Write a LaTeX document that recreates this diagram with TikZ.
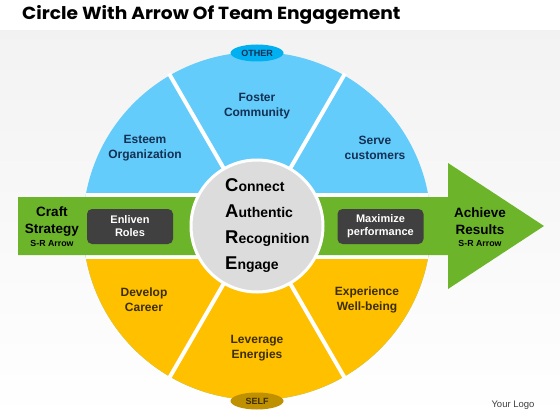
\documentclass[tikz,border=0pt]{standalone}
\usepackage{fontspec}
\setmainfont{Liberation Sans}
\newfontfamily\titlefont{Poppins}
\definecolor{otherblue}{RGB}{99,204,250}
\definecolor{otherdark}{RGB}{0,176,240}
\definecolor{selfgold}{RGB}{255,192,0}
\definecolor{selfdark}{RGB}{191,144,0}
\definecolor{arrowgreen}{RGB}{108,180,42}
\definecolor{boxgray}{RGB}{64,64,64}
\definecolor{hubgray}{RGB}{220,220,220}
\definecolor{navytext}{RGB}{20,48,84}
\definecolor{browntext}{RGB}{60,46,5}
\usetikzlibrary{positioning,shapes.geometric}

\begin{document}
\begin{tikzpicture}
  [x=1pt,y=-1pt,every node/.style={inner sep=0pt,align=center,font=\bfseries},
   bluelabel/.style={text=navytext,font=\bfseries\fontsize{12}{15}\selectfont},
   goldlabel/.style={text=browntext,font=\bfseries\fontsize{12}{15}\selectfont},
   endlabel/.style={font=\bfseries\fontsize{13.5}{17}\selectfont},
   smalllabel/.style={font=\bfseries\fontsize{8.8}{10}\selectfont},
   darkbox/.style={fill=boxgray,rounded corners=5pt,minimum width=86pt,minimum height=35pt,text=white,font=\bfseries\fontsize{11}{13}\selectfont},
   caretext/.style={anchor=base west,font=\bfseries\fontsize{14}{14}\selectfont},
   tagellipse/.style={ellipse,minimum width=53pt,minimum height=17pt,font=\bfseries\fontsize{9}{10}\selectfont}]
  \useasboundingbox (0,0) rectangle (560,420);
  \fill[white] (0,0) rectangle (560,420);
  \shade[top color=black!5,bottom color=white] (0,31) rectangle (560,420);
  \node[anchor=west,xscale=1.065,font=\titlefont\bfseries\fontsize{17.5}{19}\selectfont] (title) at (22,15) {Circle With Arrow Of Team Engagement};

  \coordinate (c) at (257,226);
  \fill[otherblue] (c) circle (174);
  \begin{scope}
    \clip (0,226) rectangle (560,420);
    \fill[selfgold] (c) circle (174);
  \end{scope}
  \foreach \a in {60,120,240,300}
    \draw[white,line width=4pt] (c) -- ++(\a:176);
  \begin{scope}
    \clip (c) circle (174);
    \fill[white] (60,193) rectangle (450,259);
  \end{scope}
  \fill[arrowgreen] (18,197) -- (448,197) -- (448,163) -- (544,226) -- (448,289) -- (448,255) -- (18,255) -- cycle;
  \filldraw[fill=hubgray,draw=white,line width=3pt] (c) circle (66);

  \node[tagellipse,fill=otherdark,text=navytext] (other) at (257,53) {OTHER};
  \node[tagellipse,fill=selfdark,text=browntext] (self) at (257,401) {SELF};

  \node[bluelabel] (esteem) at (145,148) {Esteem\\Organization};
  \node[bluelabel] (foster) at (257,106) {Foster\\Community};
  \node[bluelabel] (serve) at (375,148) {Serve\\customers};
  \node[goldlabel] (develop) at (144,300) {Develop\\Career};
  \node[goldlabel] (leverage) at (257,348) {Leverage\\Energies};
  \node[goldlabel] (experience) at (367,300) {Experience\\Well-being};

  \node[endlabel] (craft) at (52,221.5) {Craft\\Strategy};
  \node[smalllabel] (craftsr) at (52,243.5) {S-R Arrow};
  \node[endlabel] (achieve) at (480,221.5) {Achieve\\Results};
  \node[smalllabel] (achievesr) at (480,243.5) {S-R Arrow};

  \node[darkbox] (enliven) at (130,226.5) {Enliven\\Roles};
  \node[darkbox] (maximize) at (380.5,226.5) {Maximize\\performance};

  \node[caretext] (connect) at (225,191.5) {{\fontsize{18.5}{18}\selectfont C}onnect};
  \node[caretext] (authentic) at (225,217.5) {{\fontsize{18.5}{18}\selectfont A}uthentic};
  \node[caretext] (recognition) at (225,243.5) {{\fontsize{18.5}{18}\selectfont R}ecognition};
  \node[caretext] (engage) at (225,269.5) {{\fontsize{18.5}{18}\selectfont E}ngage};

  \node[font=\fontsize{9.5}{10}\selectfont,text=black!75] (logo) at (513,405) {Your Logo};
\end{tikzpicture}
\end{document}
